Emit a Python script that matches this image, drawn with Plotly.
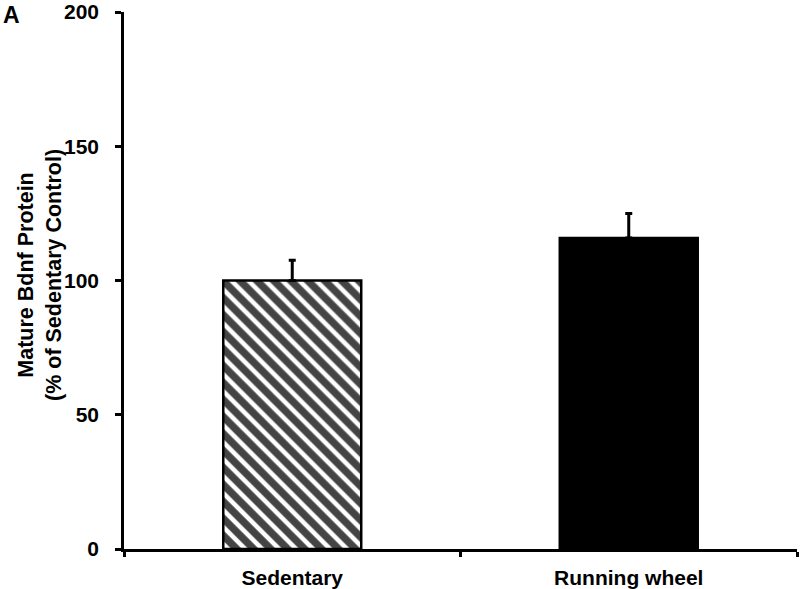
import plotly.graph_objects as go

categories = ["Sedentary", "Running wheel"]
values = [100, 115.8]
errors_up = [7.5, 9.2]
y_ticks = [0, 50, 100, 150, 200]

FONT = "Liberation Sans, Arial, sans-serif"

fig = go.Figure()
fig.add_trace(go.Bar(
    x=categories,
    y=values,
    marker=dict(
        color=["white", "black"],
        line=dict(color="black", width=2.5),
        pattern=dict(shape=["\\", ""], fgcolor="black", bgcolor="white",
                     fgopacity=1, size=12, solidity=0.62, fillmode="overlay"),
    ),
    error_y=dict(type="data", symmetric=False, array=errors_up,
                 arrayminus=[0, 0], color="black", thickness=3, width=3.5),
    showlegend=False,
))

fig.update_layout(
    width=800, height=589,
    margin=dict(l=124, r=3, t=12, b=40, autoexpand=False),
    paper_bgcolor="white", plot_bgcolor="white",
    bargap=0.59,
    font=dict(family=FONT, size=21, color="black", weight="bold"),
    xaxis=dict(
        type="category", range=[-0.5, 1.5], automargin=False,
        showline=True, linecolor="black", linewidth=2.5,
        ticks="outside", tickson="boundaries", ticklen=5, tickwidth=2.5,
        tickcolor="black", showgrid=False, zeroline=False,
        tickfont=dict(family=FONT, size=21, weight="bold"),
        ticklabelstandoff=8,
    ),
    yaxis=dict(
        range=[0, 200], tickvals=y_ticks, automargin=False,
        showline=True, linecolor="black", linewidth=2.5,
        ticks="outside", ticklen=6, tickwidth=2.5, tickcolor="black",
        showgrid=False, zeroline=False,
        tickfont=dict(family=FONT, size=21, weight="bold"),
        ticklabelstandoff=12, ticklabeloverflow="allow",
    ),
    annotations=[
        dict(text="Mature Bdnf Protein<br>(% of Sedentary Control)",
             xref="paper", yref="paper", x=(40 - 124) / 673, y=(549 - 275) / 537,
             xanchor="center", yanchor="middle", textangle=-90, showarrow=False,
             font=dict(family=FONT, size=21.5, weight="bold")),
        dict(text="A", xref="paper", yref="paper",
             x=(1 - 124) / 673, y=(549 - 0) / 537,
             xanchor="left", yanchor="top", showarrow=False,
             font=dict(family=FONT, size=23, weight="bold")),
    ],
)

fig.write_html("out.html", config={"displayModeBar": False},
               post_script="document.body.style.margin='0';document.body.style.overflow='hidden';")
